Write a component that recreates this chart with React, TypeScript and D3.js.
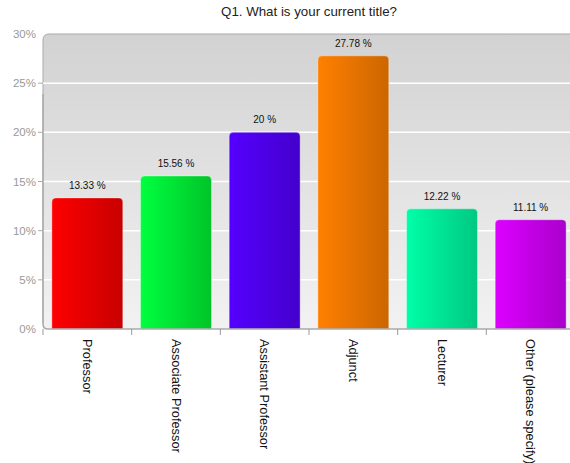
import React from "react";
import * as d3 from "d3";

const categories = ["Professor", "Associate Professor", "Assistant Professor", "Adjunct", "Lecturer", "Other (please specify)"];
const values = [13.33, 15.56, 20, 27.78, 12.22, 11.11];
const valueLabels = ["13.33 %", "15.56 %", "20 %", "27.78 %", "12.22 %", "11.11 %"];
const yTicks = [0, 5, 10, 15, 20, 25, 30];
const colorsLight = ["#ff0000", "#00ff40", "#5500ff", "#ff8000", "#00ffa8", "#dd00ff"];
const colorsDark = ["#c80000", "#00c428", "#4400cc", "#cc6600", "#00c882", "#aa00cc"];
const title = "Q1. What is your current title?";

export default function App() {
  const W = 570, H = 463;
  const left = 43, top = 34, bottom = 329, right = 575;
  const x = d3.scaleBand<string>().domain(categories).range([left, right]).paddingInner(0.2).paddingOuter(0.1);
  const xb = d3.scaleBand<string>().domain(categories).range([left, right]);
  const y = d3.scaleLinear().domain([0, 30]).range([bottom, top]);
  const font = "'Liberation Sans', Arial, sans-serif";
  const r = 4;
  return (
    <svg width={W} height={H} style={{ position: "absolute", left: 0, top: 0, display: "block" }} fontFamily={font}>
      <defs>
        <linearGradient id="bg" x1="0" y1="0" x2="0" y2="1">
          <stop offset="0" stopColor="#d2d2d2" />
          <stop offset="1" stopColor="#f2f2f2" />
        </linearGradient>
        {categories.map((c, i) => (
          <linearGradient key={c} id={`g${i}`} x1="0" y1="0" x2="1" y2="0">
            <stop offset="0" stopColor={colorsLight[i]} />
            <stop offset="1" stopColor={colorsDark[i]} />
          </linearGradient>
        ))}
      </defs>
      <rect width={W} height={H} fill="#fff" />
      <text x={309} y={16} textAnchor="middle" fontSize={13.3} fill="#222">{title}</text>
      <path
        d={`M${left},${bottom} L${left},${top + 6} Q${left},${top} ${left + 6},${top} L${right},${top} L${right},${bottom} Z`}
        fill="url(#bg)"
      />
      <path d={`M${left},${bottom - 6} L${left},${top + 6} Q${left},${top} ${left + 6},${top} L${right},${top}`} fill="none" stroke="#aaa" strokeWidth={1} />
      {yTicks.filter(t => t > 0 && t < 30).map(t => (
        <line key={t} x1={left} x2={right} y1={y(t)} y2={y(t)} stroke="#fff" strokeWidth={1.5} />
      ))}
      {yTicks.map(t => (
        <g key={t}>
          {t > 0 && t < 30 && <line x1={left - 5} x2={left} y1={y(t)} y2={y(t)} stroke="#aaa" />}
          <text x={36} y={y(t) + 4} textAnchor="end" fontSize={11.5} fill="#999">{t}%</text>
        </g>
      ))}
      {categories.map((c, i) => {
        const x0 = x(c)!, w = x.bandwidth(), y0 = y(values[i]);
        const d = `M${x0},${bottom} L${x0},${y0 + r} Q${x0},${y0} ${x0 + r},${y0} L${x0 + w - r},${y0} Q${x0 + w},${y0} ${x0 + w},${y0 + r} L${x0 + w},${bottom} Z`;
        return (
          <g key={c}>
            <path d={d} fill={`url(#g${i})`} stroke="rgba(255,255,255,0.35)" strokeWidth={1} />
            <text x={x0 + w / 2} y={y0 - 9} textAnchor="middle" fontSize={10} fill="#111">{valueLabels[i]}</text>
          </g>
        );
      })}
      <path d={`M${left},${top + 60} L${left},${bottom - 5} Q${left},${bottom} ${left + 5},${bottom} L${right},${bottom}`} fill="none" stroke="#aaa" strokeWidth={1.5} />
      {categories.map((c, i) => (
        <line key={`t${c}`} x1={xb(c)!} x2={xb(c)!} y1={bottom} y2={bottom + 6} stroke="#999" />
      ))}
      {categories.map(c => {
        const cx = xb(c)! + xb.bandwidth() / 2;
        return (
          <text key={`l${c}`} transform={`translate(${cx - 4.5},${339}) rotate(90)`} fontSize={12.8} fill="#111">{c}</text>
        );
      })}
    </svg>
  );
}
